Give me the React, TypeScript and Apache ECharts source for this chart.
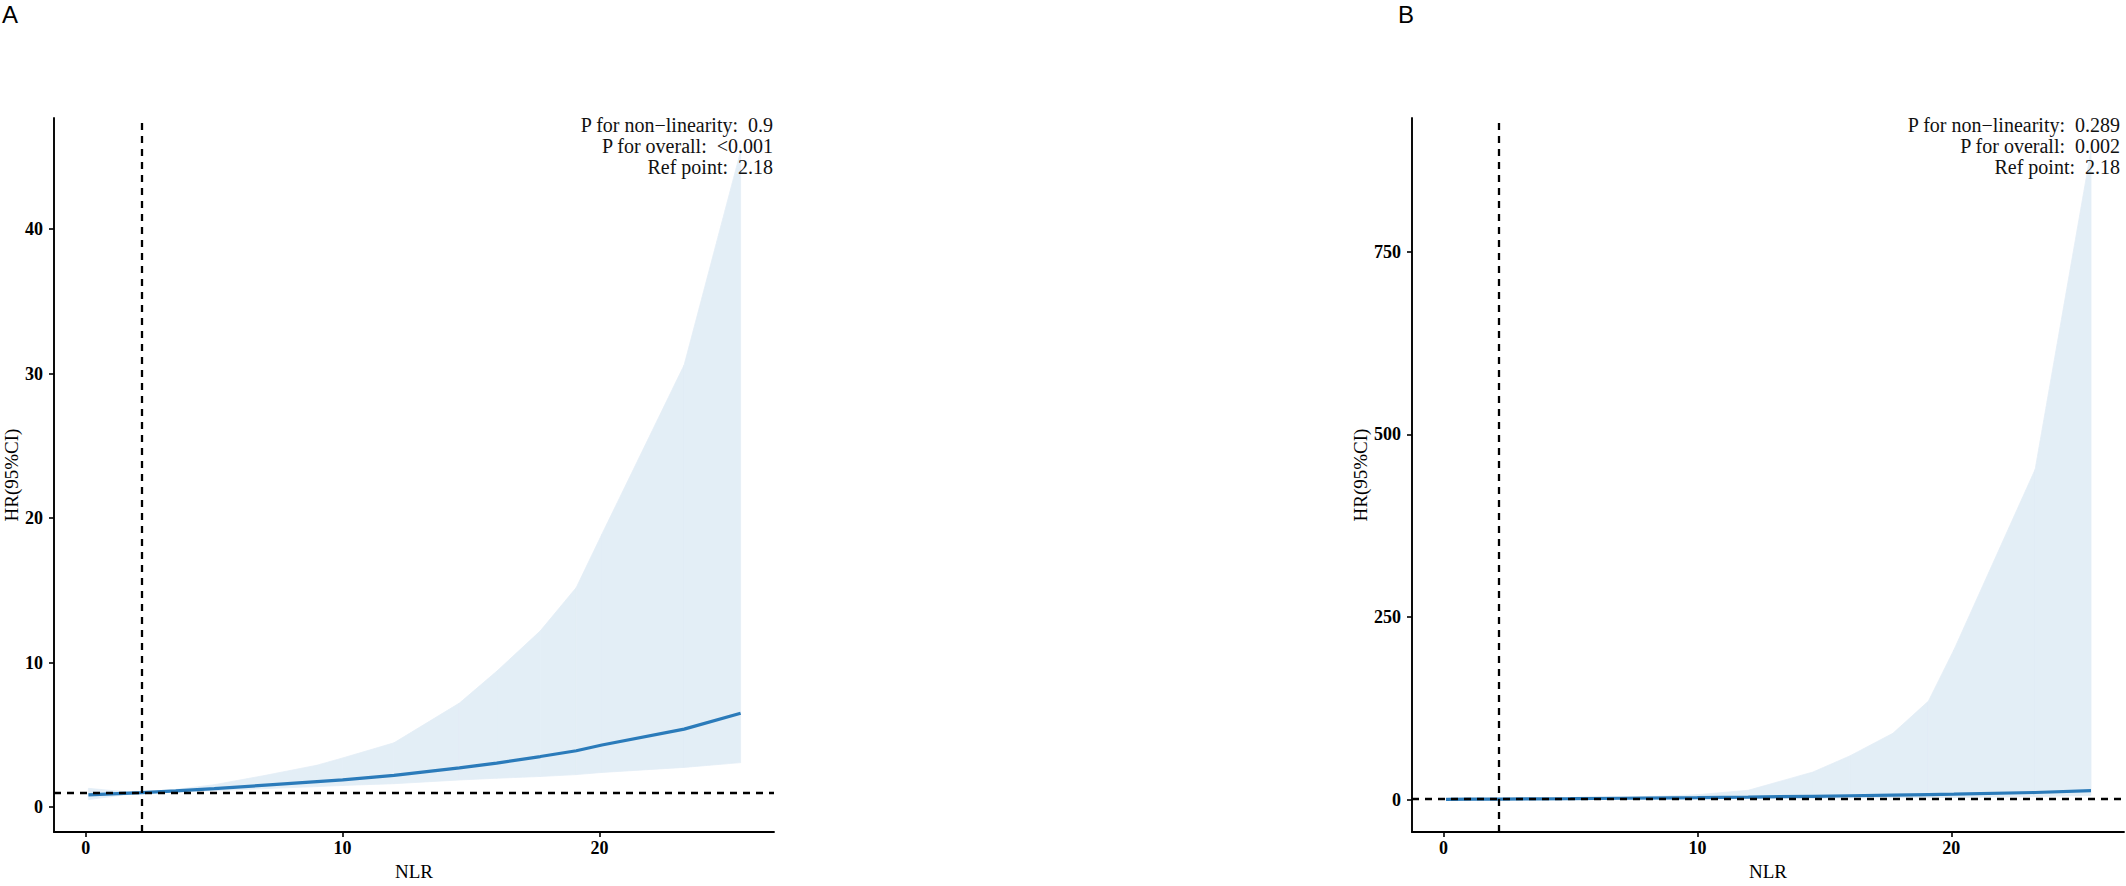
import React, { useEffect, useRef } from "react";
import * as echarts from "echarts";

// NLR values at which the spline curves were sampled
const NLR = [0.1, 1.0, 2.18, 3.5, 5.0, 7.0, 9.0, 10.0, 12.0, 14.55, 16.0, 17.7, 19.1, 20.1, 23.3, 25.5];

// Panel A
const A_HR = [0.85, 0.92, 1.0, 1.12, 1.28, 1.52, 1.76, 1.88, 2.2, 2.72, 3.05, 3.5, 3.9, 4.3, 5.4, 6.5];
const A_UPPER = [1.3, 1.15, 1.0, 1.22, 1.55, 2.2, 2.9, 3.4, 4.45, 7.2, 9.4, 12.2, 15.2, 18.9, 30.6, 45.4];
const A_LOWER = [0.52, 0.73, 1.0, 1.06, 1.14, 1.28, 1.42, 1.5, 1.62, 1.88, 2.0, 2.12, 2.25, 2.4, 2.75, 3.08];
const A_YTICKS = [0, 10, 20, 30, 40];
const A_NOTES = ["P for non\u2212linearity:  0.9", "P for overall:  <0.001", "Ref point:  2.18"];

// Panel B
const B_HR = [0.6, 0.8, 1.0, 1.3, 1.6, 2.1, 2.7, 3.0, 3.7, 4.8, 5.5, 6.4, 7.2, 7.8, 10.0, 12.5];
const B_UPPER = [1.8, 1.3, 1.0, 1.6, 2.3, 3.6, 5.5, 7.0, 13.0, 38.0, 60.0, 91.0, 135.0, 205.0, 452.0, 888.0];
const B_LOWER = [0.2, 0.5, 1.0, 1.05, 1.1, 1.25, 1.4, 1.5, 1.7, 2.0, 2.3, 2.7, 3.0, 3.3, 4.5, 6.0];
const B_YTICKS = [0, 250, 500, 750];
const B_NOTES = ["P for non\u2212linearity:  0.289", "P for overall:  0.002", "Ref point:  2.18"];

const X_TICKS = [0, 10, 20];
const REF_POINT = 2.18;
const HR_REF = 1;

const SERIF = "'Liberation Serif', 'Times New Roman', serif";
const LINE_COLOR = "#2B7BBA";
const BAND_COLOR = "#E3EEF6";

export default function App() {
  const ref = useRef<HTMLDivElement>(null);

  useEffect(() => {
    if (!ref.current) return;
    const chart = echarts.init(ref.current, undefined, { renderer: "svg" });

    const grids = [
      { left: 54, top: 118, width: 720, height: 723 },
      { left: 1412, top: 118, width: 712, height: 723 },
    ];
    const yRanges = [
      [-1.73, 47.7],
      [-44.2, 932.8],
    ];
    const yTicks = [A_YTICKS, B_YTICKS];
    const nameGaps = [33, 42];
    const panels = [
      { hr: A_HR, up: A_UPPER, lo: A_LOWER },
      { hr: B_HR, up: B_UPPER, lo: B_LOWER },
    ];

    const axisLine = { show: true, onZero: false, lineStyle: { color: "#000", width: 1.9 } };
    const axisTickBase = { show: true, length: 5, lineStyle: { color: "#000", width: 1.6 } };
    const labelBase = { color: "#000", fontFamily: SERIF, fontWeight: "bold" as const, fontSize: 18 };

    const xAxis = grids.map((_, i) => ({
      type: "value",
      gridIndex: i,
      min: -1.24,
      max: 26.8,
      name: "NLR",
      nameLocation: "middle",
      nameGap: 27,
      nameTextStyle: { fontFamily: SERIF, fontSize: 19, color: "#000" },
      axisLine,
      axisTick: { ...axisTickBase, customValues: X_TICKS },
      axisLabel: { ...labelBase, margin: 7, customValues: X_TICKS },
      splitLine: { show: false },
    }));

    const yAxis = grids.map((_, i) => ({
      type: "value",
      gridIndex: i,
      min: yRanges[i][0],
      max: yRanges[i][1],
      name: "HR(95%CI)",
      nameLocation: "middle",
      nameGap: nameGaps[i],
      nameTextStyle: { fontFamily: SERIF, fontSize: 19, color: "#000" },
      axisLine,
      axisTick: { ...axisTickBase, customValues: yTicks[i] },
      axisLabel: { ...labelBase, margin: 11, customValues: yTicks[i] },
      splitLine: { show: false },
    }));

    const series: any[] = [];
    panels.forEach((p, i) => {
      // confidence band: one quad per interval between consecutive NLR samples
      const segs = NLR.slice(0, -1).map((x, k) => [x, NLR[k + 1], p.lo[k], p.up[k], p.lo[k + 1], p.up[k + 1]]);
      series.push({
        type: "custom",
        xAxisIndex: i,
        yAxisIndex: i,
        silent: true,
        z: 1,
        data: segs,
        encode: { x: [0, 1], y: [2, 3, 4, 5] },
        renderItem: (params: any, api: any) => {
          const x0 = api.value(0);
          const x1 = api.value(1);
          const pts = [
            api.coord([x0, api.value(2)]),
            api.coord([x1, api.value(4)]),
            api.coord([x1, api.value(5)]),
            api.coord([x0, api.value(3)]),
          ];
          return {
            type: "polygon",
            shape: { points: pts },
            style: { fill: BAND_COLOR, stroke: BAND_COLOR, lineWidth: 0.8 },
          };
        },
      });
      series.push({
        type: "line",
        xAxisIndex: i,
        yAxisIndex: i,
        symbol: "none",
        silent: true,
        lineStyle: { color: LINE_COLOR, width: 3.2 },
        data: NLR.map((x, k) => [x, p.hr[k]]),
        z: 3,
      });
      series.push({
        type: "line",
        xAxisIndex: i,
        yAxisIndex: i,
        symbol: "none",
        silent: true,
        data: [],
        z: 4,
        markLine: {
          silent: true,
          symbol: "none",
          label: { show: false },
          lineStyle: { color: "#000", width: 2.3, type: [7, 6] },
          data: [{ xAxis: REF_POINT }, { yAxis: HR_REF }],
        },
      });
    });

    const noteRights = [773, 2120];
    const noteYs = [125, 146, 167];
    const graphic: any[] = [
      {
        type: "text",
        left: 2,
        top: 2,
        style: { text: "A", font: "24px 'Liberation Sans', Arial, sans-serif", fill: "#000" },
      },
      {
        type: "text",
        left: 1398,
        top: 2,
        style: { text: "B", font: "24px 'Liberation Sans', Arial, sans-serif", fill: "#000" },
      },
    ];
    [A_NOTES, B_NOTES].forEach((notes, i) => {
      notes.forEach((t, k) => {
        graphic.push({
          type: "text",
          x: noteRights[i],
          y: noteYs[k],
          z: 10,
          style: {
            text: t,
            font: `20px ${SERIF}`,
            fill: "#111",
            align: "right",
            verticalAlign: "middle",
          },
        });
      });
    });

    chart.setOption({
      animation: false,
      backgroundColor: "#fff",
      grid: grids,
      xAxis,
      yAxis,
      series,
      graphic,
    });

    return () => chart.dispose();
  }, []);

  return (
    <div
      ref={ref}
      style={{ position: "absolute", left: 0, top: 0, width: 2126, height: 886, background: "#fff" }}
    />
  );
}
